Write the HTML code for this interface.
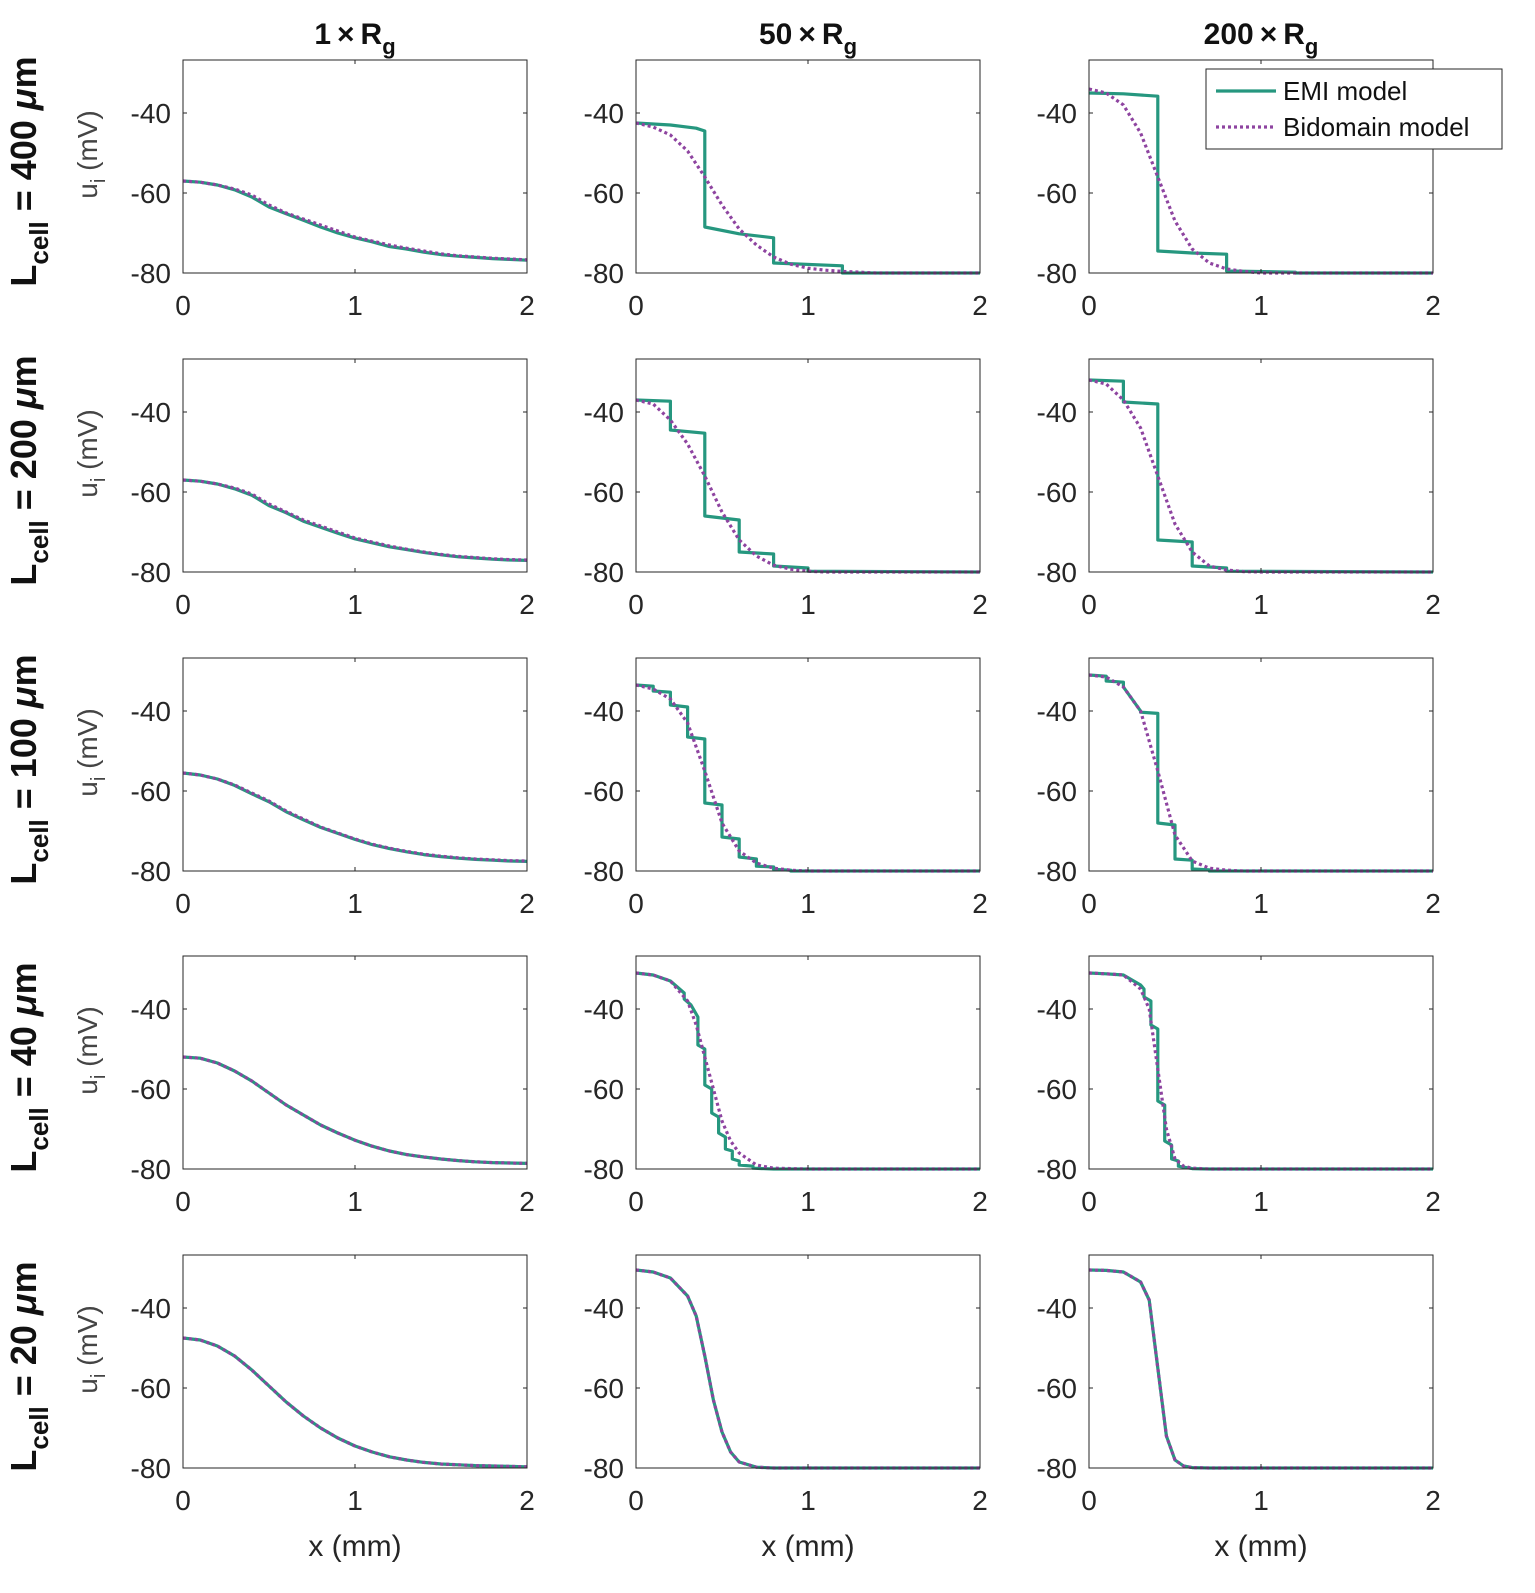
<!DOCTYPE html>
<html><head><meta charset="utf-8">
<style>
html,body{margin:0;padding:0;background:#fff;}
svg{display:block;font-family:"Liberation Sans",Arial,sans-serif;}
</style></head>
<body>
<svg id="fig" width="1535" height="1593" viewBox="0 0 1535 1593" xmlns="http://www.w3.org/2000/svg"></svg>
<script>
// ---- data ----
const colTitles = ["1", "50", "200"];
const rowLabels = ["400", "200", "100", "40", "20"];
const xTicks = [0, 1, 2];
const yTicks = [-80, -60, -40];
const xGrid = [0,0.1,0.2,0.3,0.4,0.5,0.6,0.7,0.8,0.9,1.0,1.1,1.2,1.3,1.4,1.5,1.6,1.7,1.8,1.9,2.0];

// column 1 (1 x Rg) bidomain on xGrid
const bi_r1c1 = [-57,-57.3,-58,-59,-60.5,-63,-65,-66.5,-68,-69.5,-71,-72,-73,-73.8,-74.5,-75.2,-75.7,-76,-76.3,-76.5,-76.7];
const bi_r2c1 = [-57,-57.3,-58,-59,-60.5,-63,-65,-67,-68.5,-70,-71.5,-72.5,-73.5,-74.3,-75,-75.6,-76.1,-76.4,-76.7,-76.9,-77];
const bi_r3c1 = [-55.5,-56,-57,-58.5,-60.5,-62.5,-65,-67,-69,-70.5,-72,-73.3,-74.3,-75.1,-75.8,-76.3,-76.7,-77,-77.2,-77.4,-77.5];
const bi_r4c1 = [-52,-52.3,-53.5,-55.5,-58,-61,-64,-66.5,-69,-71,-72.8,-74.3,-75.5,-76.4,-77,-77.5,-77.9,-78.2,-78.4,-78.5,-78.6];
const bi_r5c1 = [-47.5,-48,-49.5,-52,-55.5,-59.5,-63.5,-67,-70,-72.5,-74.5,-76,-77.2,-78,-78.6,-79,-79.2,-79.4,-79.5,-79.6,-79.7];
// column 1 EMI (nearly identical, slight kinks)
const emi_r1c1 = [-57,-57.3,-58,-59.2,-61,-63.5,-65.2,-66.8,-68.5,-70,-71.2,-72.2,-73.4,-74,-74.8,-75.4,-75.8,-76.1,-76.4,-76.6,-76.8];
const emi_r2c1 = [-57,-57.3,-58,-59.2,-60.8,-63.4,-65.2,-67.3,-68.8,-70.3,-71.7,-72.7,-73.7,-74.4,-75.1,-75.7,-76.2,-76.5,-76.8,-77,-77.1];
const emi_r3c1 = [-55.5,-56,-57,-58.6,-60.7,-62.7,-65.2,-67.2,-69.1,-70.6,-72.1,-73.4,-74.4,-75.2,-75.9,-76.4,-76.8,-77.1,-77.3,-77.5,-77.6];
const emi_r4c1 = bi_r4c1.slice();
const emi_r5c1 = bi_r5c1.slice();

// columns 2,3 bidomain (x, y)
const bx_r1c2 = [0,0.1,0.2,0.3,0.4,0.5,0.6,0.7,0.8,0.9,1.0,1.1,1.2,1.3,1.4,2.0];
const by_r1c2 = [-42.5,-43.5,-45.5,-49.5,-56,-63,-69,-73,-76,-77.8,-78.8,-79.3,-79.6,-79.8,-80,-80];
const bx_r1c3 = [0,0.1,0.2,0.3,0.4,0.5,0.6,0.7,0.8,0.9,1.0,2.0];
const by_r1c3 = [-34,-35,-38,-45,-56,-67,-74,-77.5,-79,-79.6,-80,-80];
const bx_r2c2 = [0,0.1,0.2,0.3,0.4,0.5,0.6,0.7,0.8,0.9,1.0,1.1,2.0];
const by_r2c2 = [-37,-38,-42,-48,-56,-65,-72,-76,-78.3,-79.3,-79.8,-80,-80];
const bx_r2c3 = [0,0.1,0.2,0.3,0.4,0.5,0.6,0.7,0.8,0.9,1.0,2.0];
const by_r2c3 = [-32,-33,-37,-44,-56,-68,-75,-78.5,-79.5,-79.9,-80,-80];
const bx_r3c2 = [0,0.1,0.2,0.3,0.4,0.5,0.6,0.7,0.8,0.9,1.0,2.0];
const by_r3c2 = [-33.5,-34.5,-37,-43,-55,-68,-75,-78,-79.3,-79.8,-80,-80];
const bx_r3c3 = [0,0.1,0.2,0.3,0.4,0.5,0.6,0.7,0.8,0.9,2.0];
const by_r3c3 = [-31,-31.5,-34,-40,-55,-71,-77.5,-79.3,-79.8,-80,-80];
const bx_r4c2 = [0,0.1,0.2,0.3,0.35,0.4,0.45,0.5,0.55,0.6,0.7,0.8,1.0,2.0];
const by_r4c2 = [-31,-31.5,-33,-38,-44,-52,-60,-68,-73,-76,-79,-79.8,-80,-80];
const bx_r4c3 = [0,0.1,0.2,0.3,0.35,0.4,0.45,0.5,0.55,0.6,0.7,2.0];
const by_r4c3 = [-31,-31.2,-31.5,-35,-40,-55,-70,-77.5,-79.3,-79.8,-80,-80];
const bx_r5c2 = [0,0.1,0.2,0.3,0.35,0.4,0.45,0.5,0.55,0.6,0.7,0.8,2.0];
const by_r5c2 = [-30.5,-31,-32.5,-37,-42,-52,-63,-71,-76,-78.5,-79.8,-80,-80];
const bx_r5c3 = [0,0.1,0.2,0.3,0.35,0.4,0.45,0.5,0.55,0.6,0.7,2.0];
const by_r5c3 = [-30.5,-30.6,-31,-33.5,-38,-55,-72,-78,-79.5,-79.9,-80,-80];

// columns 2,3 EMI (stepwise, x, y)
const ex_r1c2 = [0,0.2,0.35,0.4,0.4,0.6,0.8,0.8,1.2,1.2,2.0];
const ey_r1c2 = [-42.5,-43,-43.8,-44.5,-68.5,-70.2,-71.2,-77.5,-78.2,-80,-80];
const ex_r1c3 = [0,0.2,0.4,0.4,0.6,0.8,0.8,1.2,1.2,2.0];
const ey_r1c3 = [-35,-35.2,-35.8,-74.5,-75,-75.3,-79.5,-79.8,-80,-80];
const ex_r2c2 = [0,0.2,0.2,0.4,0.4,0.6,0.6,0.8,0.8,1.0,1.0,2.0];
const ey_r2c2 = [-37,-37.3,-44.5,-45.3,-66,-67,-75,-75.5,-78.5,-79,-79.8,-80];
const ex_r2c3 = [0,0.2,0.2,0.4,0.4,0.6,0.6,0.8,0.8,2.0];
const ey_r2c3 = [-32,-32.3,-37.5,-38,-72,-72.5,-78.5,-79,-79.8,-80];
const ex_r3c2 = [0,0.1,0.1,0.2,0.2,0.3,0.3,0.4,0.4,0.5,0.5,0.6,0.6,0.7,0.7,0.8,0.8,0.9,0.9,2.0];
const ey_r3c2 = [-33.5,-33.8,-35,-35.3,-38.5,-39,-46.5,-47,-63,-63.5,-71.5,-72,-76.5,-77,-78.8,-79,-79.6,-79.8,-80,-80];
const ex_r3c3 = [0,0.1,0.1,0.2,0.2,0.3,0.3,0.4,0.4,0.5,0.5,0.6,0.6,0.7,0.7,2.0];
const ey_r3c3 = [-31,-31.3,-32.5,-32.8,-34,-40,-40.3,-40.6,-68,-68.5,-77,-77.3,-79.5,-79.7,-80,-80];
const ex_r4c2 = [0,0.1,0.2,0.28,0.28,0.32,0.36,0.36,0.4,0.4,0.44,0.44,0.48,0.48,0.52,0.52,0.56,0.56,0.6,0.6,0.68,0.68,0.8,2.0];
const ey_r4c2 = [-31,-31.5,-33,-36,-37.5,-39,-42,-49,-50,-59,-60,-66,-67,-71,-72,-75,-75.5,-77.5,-78,-79,-79.3,-79.8,-80,-80];
const ex_r4c3 = [0,0.1,0.2,0.3,0.32,0.32,0.36,0.36,0.4,0.4,0.44,0.44,0.48,0.48,0.52,0.52,0.56,0.6,0.7,2.0];
const ey_r4c3 = [-31,-31.2,-31.5,-34,-35,-37,-38,-44,-45,-63,-64,-73,-74,-77.5,-78,-79.3,-79.6,-79.9,-80,-80];
const ex_r5c2 = bx_r5c2.slice();
const ey_r5c2 = by_r5c2.slice();
const ex_r5c3 = bx_r5c3.slice();
const ey_r5c3 = by_r5c3.slice();

// ---- layout ----
const colLeft = [183, 636, 1089];
const plotW = 344, plotH = 213;
const rowBottom = [273, 572, 871, 1169, 1468];
const yMin = -80, yMax = -26.75, xMin = 0, xMax = 2;
const EMI_COLOR = "#26977f", BI_COLOR = "#8e44a0";

const svg = document.getElementById('fig');
const NS = "http://www.w3.org/2000/svg";
function mk(tag, attrs, parent) {
  const e = document.createElementNS(NS, tag);
  for (const k in attrs) e.setAttribute(k, attrs[k]);
  (parent || svg).appendChild(e);
  return e;
}
function sx(c, x) { return colLeft[c] + (x - xMin) / (xMax - xMin) * plotW; }
function sy(r, y) { return rowBottom[r] - (y - yMin) / (yMax - yMin) * plotH; }

const emiData = [
  [[xGrid, emi_r1c1],[ex_r1c2, ey_r1c2],[ex_r1c3, ey_r1c3]],
  [[xGrid, emi_r2c1],[ex_r2c2, ey_r2c2],[ex_r2c3, ey_r2c3]],
  [[xGrid, emi_r3c1],[ex_r3c2, ey_r3c2],[ex_r3c3, ey_r3c3]],
  [[xGrid, emi_r4c1],[ex_r4c2, ey_r4c2],[ex_r4c3, ey_r4c3]],
  [[xGrid, emi_r5c1],[ex_r5c2, ey_r5c2],[ex_r5c3, ey_r5c3]]
];
const biData = [
  [[xGrid, bi_r1c1],[bx_r1c2, by_r1c2],[bx_r1c3, by_r1c3]],
  [[xGrid, bi_r2c1],[bx_r2c2, by_r2c2],[bx_r2c3, by_r2c3]],
  [[xGrid, bi_r3c1],[bx_r3c2, by_r3c2],[bx_r3c3, by_r3c3]],
  [[xGrid, bi_r4c1],[bx_r4c2, by_r4c2],[bx_r4c3, by_r4c3]],
  [[xGrid, bi_r5c1],[bx_r5c2, by_r5c2],[bx_r5c3, by_r5c3]]
];

function pathFrom(r, c, xs, ys) {
  let d = "";
  for (let i = 0; i < xs.length; i++) d += (i ? "L" : "M") + sx(c, xs[i]).toFixed(1) + " " + sy(r, ys[i]).toFixed(1);
  return d;
}

// column titles
for (let c = 0; c < 3; c++) {
  const t = mk('text', {x: colLeft[c] + plotW/2, y: 58, 'text-anchor': 'middle', 'font-size': 30, 'font-weight': 'bold', fill: '#111'});
  
  
  t.innerHTML = colTitles[c] + '\u2009\u00d7\u2009R<tspan font-size="22" dy="10">g</tspan>';
  t.setAttribute('y', 44);
}

for (let r = 0; r < 5; r++) {
  const top = rowBottom[r] - plotH;
  // row label
  const cy = top + plotH/2 + 5;
  const rl = mk('text', {transform: `translate(36 ${cy}) rotate(-90)`, 'text-anchor': 'middle', 'font-size': 36, 'font-weight': 'bold', fill: '#111'});
  
  
  rl.innerHTML = 'L<tspan font-size="26" dy="12">cell</tspan><tspan dy="-12"> = ' + rowLabels[r] + ' </tspan><tspan font-style="italic">\u03bc</tspan>m';
  // y axis title
  const yl = mk('text', {transform: `translate(97 ${top + plotH/2 - 12}) rotate(-90)`, 'text-anchor': 'middle', 'font-size': 28, fill: '#444'});
  
  
  yl.innerHTML = 'u<tspan font-size="20" dy="8">i</tspan><tspan dy="-8"> (mV)</tspan>';

  for (let c = 0; c < 3; c++) {
    const g = mk('g', {});
    
    
    const x0 = colLeft[c];
    mk('rect', {x: x0, y: top, width: plotW, height: plotH, fill: '#fff', stroke: 'none'}, g);
    // data
    const bd = biData[r][c];
    const ed = emiData[r][c];
    const emi = mk('path', {d: pathFrom(r, c, ed[0], ed[1]), fill: 'none', stroke: EMI_COLOR, 'stroke-width': 3.2, 'stroke-linejoin': 'round'}, g);
    
    
    const bi = mk('path', {d: pathFrom(r, c, bd[0], bd[1]), fill: 'none', stroke: BI_COLOR, 'stroke-width': 3.2, 'stroke-dasharray': '3 3'}, g);
    
    
    // box
    mk('rect', {x: x0, y: top, width: plotW, height: plotH, fill: 'none', stroke: '#262626', 'stroke-width': 1}, g);
    // y ticks
    for (const v of yTicks) {
      const y = sy(r, v);
      mk('line', {x1: x0, x2: x0 + 4, y1: y, y2: y, stroke: '#262626'}, g);
      mk('line', {x1: x0 + plotW, x2: x0 + plotW - 4, y1: y, y2: y, stroke: '#262626'}, g);
      const t = mk('text', {x: x0 - 12, y: y + 10, 'text-anchor': 'end', 'font-size': 28, fill: '#262626'}, g);
      
      
      t.textContent = v;
    }
    for (const v of xTicks) {
      const x = sx(c, v);
      mk('line', {x1: x, x2: x, y1: rowBottom[r], y2: rowBottom[r] - 4, stroke: '#262626'}, g);
      mk('line', {x1: x, x2: x, y1: top, y2: top + 4, stroke: '#262626'}, g);
      const t = mk('text', {x: x, y: rowBottom[r] + 42, 'text-anchor': 'middle', 'font-size': 28, fill: '#262626'}, g);
      
      
      t.textContent = v;
    }
    if (r === 4) {
      const xl = mk('text', {x: x0 + plotW/2, y: 1556, 'text-anchor': 'middle', 'font-size': 30, fill: '#262626'}, g);
      
      
      xl.textContent = 'x (mm)';
    }
  }
}

// legend
const lg = mk('g', {});


mk('rect', {x: 1206, y: 69, width: 296, height: 80, fill: '#fff', stroke: '#262626', 'stroke-width': 1}, lg);
mk('line', {x1: 1216, x2: 1276, y1: 91, y2: 91, stroke: EMI_COLOR, 'stroke-width': 3.2}, lg);
const l1 = mk('text', {x: 1283, y: 100, 'font-size': 26, fill: '#111'}, lg);


l1.textContent = 'EMI model';
mk('line', {x1: 1216, x2: 1276, y1: 127, y2: 127, stroke: BI_COLOR, 'stroke-width': 3.2, 'stroke-dasharray': '3 3'}, lg);
const l2 = mk('text', {x: 1283, y: 136, 'font-size': 26, fill: '#111'}, lg);


l2.textContent = 'Bidomain model';
</script>
</body></html>
